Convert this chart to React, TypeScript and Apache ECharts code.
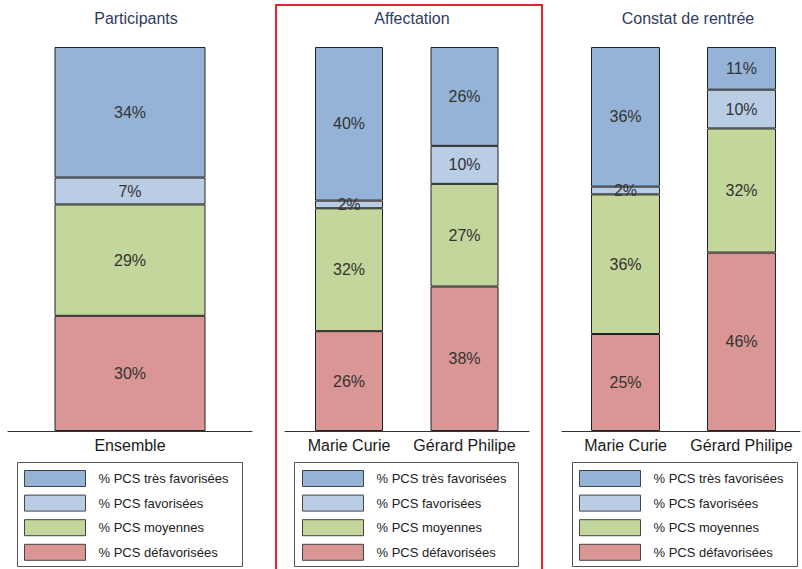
import React, { useEffect, useRef } from "react";
import * as echarts from "echarts";

const classNames = ["% PCS très favorisées", "% PCS favorisées", "% PCS moyennes", "% PCS défavorisées"];
const classColors = ["#95B3D7", "#B9CDE5", "#C3D69B", "#D99694"];

const panelTitles = ["Participants", "Affectation", "Constat de rentrée"];

const participantsCats = ["Ensemble"];
const participantsTresFav = [34];
const participantsFav = [7];
const participantsMoy = [29];
const participantsDefav = [30];

const affectationCats = ["Marie Curie", "Gérard Philipe"];
const affectationTresFav = [40, 26];
const affectationFav = [2, 10];
const affectationMoy = [32, 27];
const affectationDefav = [26, 38];

const constatCats = ["Marie Curie", "Gérard Philipe"];
const constatTresFav = [36, 11];
const constatFav = [2, 10];
const constatMoy = [36, 32];
const constatDefav = [25, 46];

const panels = [
  { cats: participantsCats, values: [participantsTresFav, participantsFav, participantsMoy, participantsDefav] },
  { cats: affectationCats, values: [affectationTresFav, affectationFav, affectationMoy, affectationDefav] },
  { cats: constatCats, values: [constatTresFav, constatFav, constatMoy, constatDefav] },
];

const FONT = "'Liberation Sans', Arial, sans-serif";

export default function App() {
  const ref = useRef<HTMLDivElement>(null);
  useEffect(() => {
    if (!ref.current) return;
    const chart = echarts.init(ref.current, undefined, { renderer: "svg" });

    // grids holding the bars
    const barGrids = [
      { left: 8, top: 47, width: 244, height: 384 },
      { left: 291.25, top: 47, width: 231, height: 384 },
      { left: 567.5, top: 47, width: 232, height: 384 },
    ];
    // grids only drawing the baseline
    const lineGrids = [
      { left: 8, top: 47, width: 244, height: 384 },
      { left: 285, top: 47, width: 244, height: 384 },
      { left: 562, top: 47, width: 238, height: 384 },
    ];
    const barWidths = [151, 68, 69];
    const titleCenters = [131, 407, 683];
    const legendLefts = [24, 302, 579];
    const boxes = [
      { x: 17.5, w: 225 },
      { x: 294.5, w: 224 },
      { x: 572.5, w: 225 },
    ];

    const series: any[] = [];
    panels.forEach((p, pi) => {
      const totals = p.cats.map((_, ci) => p.values.reduce((s, arr) => s + arr[ci], 0));
      // bottom first: défavorisées, moyennes, favorisées, très favorisées
      [3, 2, 1, 0].forEach((k) => {
        series.push({
          type: "bar",
          name: classNames[k],
          stack: "s" + pi,
          xAxisIndex: pi,
          yAxisIndex: pi,
          barWidth: barWidths[pi],
          itemStyle: { color: classColors[k], borderColor: "#222", borderWidth: 1 },
          label: {
            show: true,
            position: "inside",
            fontSize: 16,
            fontFamily: FONT,
            color: "#333",
            formatter: (prm: any) => prm.data.raw + "%",
          },
          data: p.values[k].map((v, ci) => ({ value: (v / totals[ci]) * 100, raw: v })),
        });
      });
    });

    const option: any = {
      animation: false,
      textStyle: { fontFamily: FONT },
      title: panelTitles.map((t, i) => ({
        text: t,
        left: titleCenters[i],
        textAlign: "center",
        top: 5,
        textStyle: { fontSize: 16, fontWeight: "normal", color: "#2F3D5F", fontFamily: FONT },
      })),
      grid: [...barGrids, ...lineGrids],
      xAxis: [
        ...panels.map((p, i) => ({
          type: "category",
          gridIndex: i,
          data: p.cats,
          axisLine: { show: false },
          axisTick: { show: false },
          axisLabel: {
            interval: 0,
            fontSize: 16,
            fontWeight: "normal",
            color: "#1a1a1a",
            margin: 6,
            fontFamily: FONT,
            hideOverlap: false,
          },
        })),
        ...lineGrids.map((_, i) => ({
          type: "value",
          gridIndex: 3 + i,
          min: 0,
          max: 1,
          splitLine: { show: false },
          axisTick: { show: false },
          axisLabel: { show: false },
          axisLine: { show: true, onZero: false, lineStyle: { color: "#333", width: 1 } },
        })),
      ],
      yAxis: [...barGrids, ...lineGrids].map((_, i) => ({
        type: "value",
        gridIndex: i,
        min: 0,
        max: 100,
        show: false,
        splitLine: { show: false },
      })),
      legend: panels.map((_, i) => ({
        orient: "vertical",
        left: legendLefts[i],
        top: 470,
        padding: 0,
        itemWidth: 61,
        itemHeight: 16,
        itemGap: 7.6,
        icon: "rect",
        selectedMode: false,
        data: classNames,
        itemStyle: { borderColor: "#444", borderWidth: 1 },
        textStyle: { fontSize: 13, color: "#222", fontFamily: FONT, padding: [0, 0, 0, 8] },
      })),
      graphic: [
        ...boxes.map((b) => ({
          type: "rect",
          shape: { x: b.x, y: 462.5, width: b.w, height: 104 },
          style: { fill: "none", stroke: "#555", lineWidth: 1 },
          silent: true,
        })),
        {
          type: "rect",
          shape: { x: 276, y: 5, width: 266, height: 580 },
          style: { fill: "none", stroke: "#E8202A", lineWidth: 2 },
          silent: true,
        },
      ],
      series,
    };
    chart.setOption(option);
    return () => chart.dispose();
  }, []);
  return (
    <div
      ref={ref}
      style={{ position: "fixed", left: 0, top: 0, width: 802, height: 569, background: "#fff" }}
    />
  );
}
